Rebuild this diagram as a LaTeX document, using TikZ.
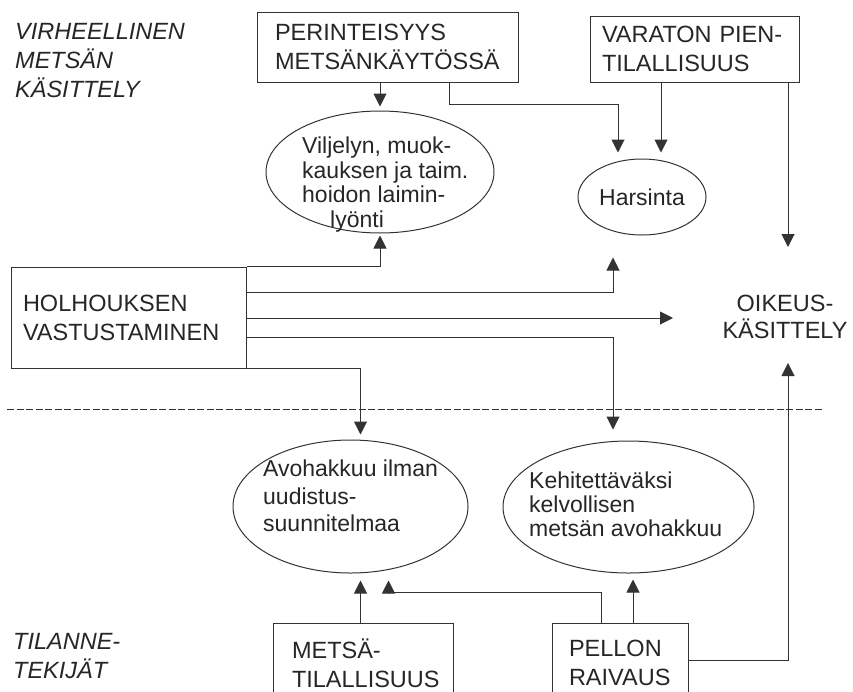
\documentclass[tikz,border=0pt]{standalone}
\usepackage{fontspec}
\setmainfont{Liberation Sans}
\usetikzlibrary{arrows.meta,shapes.geometric}

\begin{document}
\begin{tikzpicture}[x=1pt,y=-1pt]
	\tikzstyle{box} = [draw=black!80, text=black!85, line width=1pt, align=left, inner ysep=0pt, font=\fontsize{23.5}{29}\selectfont]
	\tikzstyle{oval} = [draw=black!80, text=black!85, ellipse, line width=1pt, inner sep=0pt, font=\fontsize{23}{24.5}\selectfont]
	\tikzstyle{txt} = [anchor=north west, inner sep=0pt, align=left, text=black!85, font=\fontsize{23}{24.5}\selectfont]
	\tikzstyle{side} = [anchor=north west, inner sep=0pt, align=left, text=black!85, font=\fontsize{23.5}{29}\selectfont\itshape]
	\tikzstyle{arr} = [-{Triangle[length=13pt,width=13pt]}, draw=black!80, line width=1pt]

	\useasboundingbox (0,0) rectangle (853,691);

	\node[box, text width=225pt, inner xsep=18pt, minimum height=70pt] (perint) at (387.5,47) {PERINTEISYYS\\METSÄNKÄYTÖSSÄ};
	\node[box, text width=185pt, inner xsep=12pt, minimum height=66pt] (varaton) at (694.5,49) {VARATON PIEN-\\TILALLISUUS};
	\node[box, text width=211pt, inner xsep=12pt, minimum height=101pt] (holh) at (128.5,317.5) {HOLHOUKSEN\\VASTUSTAMINEN};
	\node[box, text width=142pt, inner xsep=19pt, minimum height=80pt] (metsa) at (363,663) {METSÄ-\\TILALLISUUS};
	\node[box, text width=102pt, inner xsep=17pt, minimum height=80pt] (pellon) at (620,663) {PELLON\\RAIVAUS};

	\node[oval, minimum width=228pt, minimum height=122pt] (vilj) at (380,172) {};
	\node[oval, minimum width=128pt, minimum height=76pt] (hars) at (642,197) {Harsinta};
	\node[oval, minimum width=235pt, minimum height=133pt] (avo) at (350.5,506.5) {};
	\node[oval, minimum width=251pt, minimum height=132pt] (kehi) at (628.5,507) {};

	\node[txt] (viljtxt) at (302,137) {Viljelyn, muok-\\kauksen ja taim.\\hoidon laimin-\\\hspace*{28pt}lyönti};
	\node[txt, font=\fontsize{23}{27.5}\selectfont] (avotxt) at (263,460) {Avohakkuu ilman\\uudistus-\\suunnitelmaa};
	\node[txt, font=\fontsize{23}{24}\selectfont] (kehitxt) at (529,472) {Kehitettäväksi\\kelvollisen\\metsän avohakkuu};

	\node[side] (virh) at (15,23.6) {VIRHEELLINEN\\METSÄN\\KÄSITTELY};
	\node[side] (tilanne) at (13,633.6) {TILANNE-\\TEKIJÄT};
	\node[align=center, text=black!85, inner sep=0pt, font=\fontsize{23.5}{27}\selectfont] (oikeus) at (785,316.5) {OIKEUS-\\KÄSITTELY};

	\coordinate (oikn) at (788,247);
	\coordinate (oiks) at (788,363);
	\coordinate (oikw) at (673,318);
	\coordinate (harsl) at ([xshift=-24pt]hars.north);
	\coordinate (harsr) at ([xshift=19pt]hars.north);
	\coordinate (harsb) at ([xshift=-29pt,yshift=-22pt]hars.south);
	\coordinate (kehitop) at ([xshift=-15.5pt]kehi.north);
	\coordinate (kehibot) at ([xshift=4.5pt]kehi.south);
	\coordinate (avotop) at ([xshift=10pt]avo.north);
	\coordinate (avobot) at ([xshift=10pt]avo.south);
	\coordinate (avobot2) at ([xshift=38pt]avo.south);

	\draw[arr, shorten >=4pt] (perint.south -| vilj.north) -- (vilj.north);
	\draw[arr, shorten >=6pt] ([xshift=61.5pt]perint.south) -- ++(0,22) -| (harsl);
	\draw[arr, shorten >=6pt] (varaton.south -| harsr) -- (harsr);
	\draw[arr] (varaton.south -| oikn) -- (oikn);
	\draw[arr, shorten >=2pt] (holh.north east) -| (vilj.south);
	\draw[arr] ([yshift=-26pt]holh.north east) -| (harsb);
	\draw[arr] (holh.east |- oikw) -- (oikw);
	\draw[arr, shorten >=11pt] ([yshift=-20pt]holh.east) -| (kehitop);
	\draw[arr, shorten >=5pt] (holh.south east) -| (avotop);
	\draw[arr, shorten >=7pt] (metsa.north -| avobot) -- (avobot);
	\draw[arr, shorten >=7pt] ([xshift=-19pt]pellon.north) -- ++(0,-30) -| (avobot2);
	\draw[arr, shorten >=6pt] (pellon.north -| kehibot) -- (kehibot);
	\draw[arr] ([yshift=3pt]pellon.east) -| (oiks);

	\draw[draw=black!80, line width=1pt, dash pattern=on 7pt off 2.5pt] (7,409) -- (823,409);

\end{tikzpicture}
\end{document}
